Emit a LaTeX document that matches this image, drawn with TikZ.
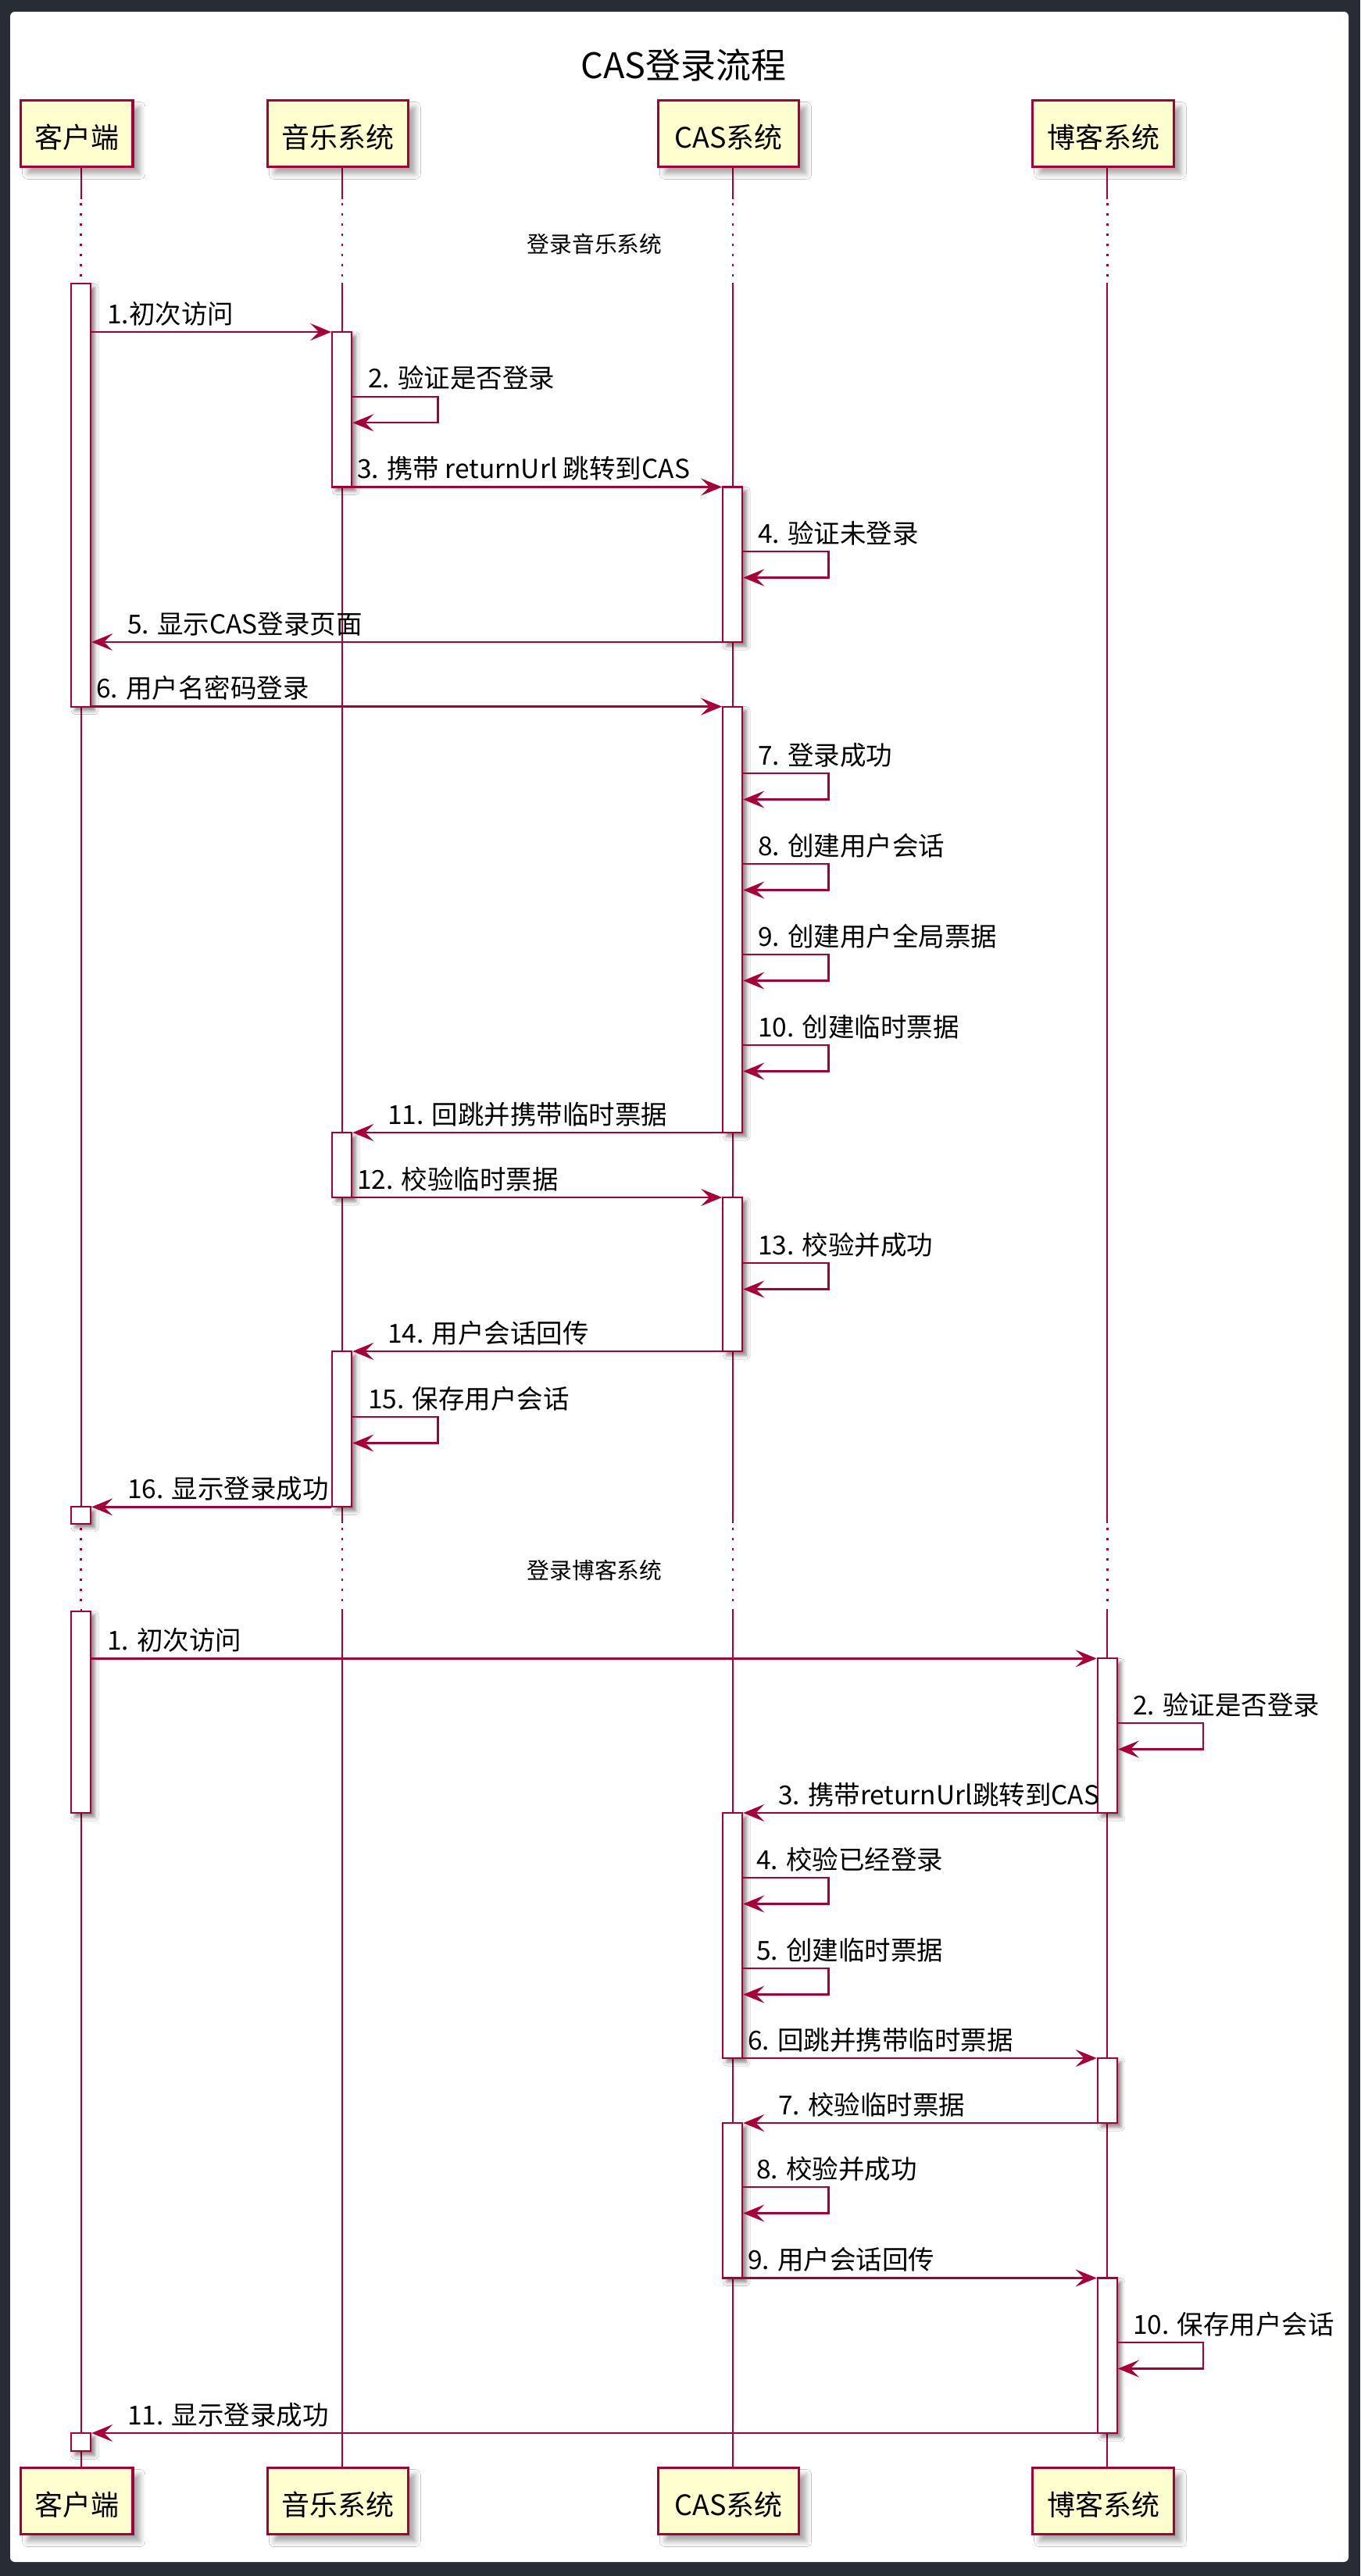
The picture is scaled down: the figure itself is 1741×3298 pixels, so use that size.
\documentclass[tikz,border=0pt]{standalone}
\usepackage{fontspec}
\setmainfont{Noto Sans CJK SC}
\usetikzlibrary{arrows.meta,shadows.blur}
\definecolor{pu}{HTML}{A80036}
\definecolor{pbg}{HTML}{FEFECE}
\definecolor{framebg}{HTML}{282C34}
\newcommand\pbox[5]{%
  \node[pbox, minimum width=#4, minimum height=85] (#1) at (#2,#3) {};
  \node[ptext] (#1t) at (#2,#3+5) {#5};}
\newcommand\abar[4]{%
  \pgfmathsetmacro\hh{#4-#3}%
  \node[actbar, minimum height=\hh pt] (#1) at (#2,{(#3+#4)/2}) {};}
\newcommand\mymsg[6]{%
  \coordinate (#1y) at (0,#4);
  \draw[msg] (#2 |- #1y) -- (#3 |- #1y);
  \node[lbl] (#1t) at (#5,#4-11) {#6};}
\newcommand\myself[5]{%
  \coordinate (#1y) at (0,#3);
  \draw[msg] (#2.east |- #1y) -- ++(109,0) -- ++(0,33.5) -- ++(-109,0);
  \node[lbl] (#1t) at (#4,#3-11) {#5};}
\begin{document}
\begin{tikzpicture}[x=1pt,y=-1pt,
  pbox/.style={draw=pu, line width=3.4pt, fill=pbg, inner sep=0pt,
    blur shadow={shadow xshift=9pt, shadow yshift=-9pt, shadow blur radius=7pt, shadow opacity=35}},
  ptext/.style={font=\fontsize{36}{40}\selectfont, inner sep=0pt},
  actbar/.style={draw=pu, line width=2.2pt, fill=white, minimum width=25pt, inner sep=0pt,
    blur shadow={shadow xshift=5pt, shadow yshift=-5pt, shadow blur radius=5pt, shadow opacity=50}},
  life/.style={draw=pu, line width=1.8pt},
  dly/.style={draw=pu, line width=2.4pt, dash pattern=on 2.5pt off 10.5pt},
  msg/.style={draw=pu, line width=2.4pt, -{Stealth[length=27pt,width=22pt,inset=11pt]}},
  lbl/.style={font=\fontsize{33.5}{38}\selectfont, anchor=base west, inner sep=0pt},
]
\useasboundingbox (0,0) rectangle (1741,3298);
\fill[framebg] (0,0) rectangle (1741,3298);
\fill[white, rounded corners=6pt] (13,15) rectangle (1726,3280);

% title
\node[font=\fontsize{45}{50}\selectfont, anchor=base, inner sep=0pt] (title) at (875,100) {CAS登录流程};

% lifelines
\foreach \x in {103.6,437.7,937.7,1417.3}{
  \draw[life] (\x,215) -- (\x,255) (\x,362) -- (\x,1950) (\x,2060) -- (\x,3158);
  \draw[dly] (\x,260) -- (\x,360) (\x,1956) -- (\x,2058);
}

% delay labels
\node[font=\fontsize{28.8}{32}\selectfont, inner sep=0pt] (d1) at (761,312) {登录音乐系统};
\node[font=\fontsize{28.8}{32}\selectfont, inner sep=0pt] (d2) at (761,2010) {登录博客系统};

% participants
\pbox{pc}{98.3}{170.9}{143.3}{客户端}
\pbox{pm}{432.3}{170.9}{180}{音乐系统}
\pbox{ps}{932.5}{170.9}{180.2}{CAS系统}
\pbox{pb}{1412}{170.9}{180.6}{博客系统}
\pbox{qc}{98.3}{3202}{143.3}{客户端}
\pbox{qm}{432.3}{3202}{180}{音乐系统}
\pbox{qs}{932.5}{3202}{180.2}{CAS系统}
\pbox{qb}{1412}{3202}{180.6}{博客系统}

% activation bars
\abar{cb1}{103.6}{363.3}{904.6}
\abar{cb2}{103.6}{1929.3}{1950.7}
\abar{cb3}{103.6}{2062.7}{2321}
\abar{cb4}{103.6}{3115}{3138.3}
\abar{mb1}{437.7}{425}{623.5}
\abar{mb2}{437.7}{1450}{1533}
\abar{mb3}{437.7}{1730}{1929.3}
\abar{sb1}{937.7}{623.5}{822}
\abar{sb2}{937.7}{904.6}{1450}
\abar{sb3}{937.7}{1533}{1730}
\abar{sb4}{937.7}{2321}{2635}
\abar{sb5}{937.7}{2718}{2916.5}
\abar{bb1}{1417.3}{2123.3}{2321}
\abar{bb2}{1417.3}{2635}{2718}
\abar{bb3}{1417.3}{2916.5}{3115}

% section 1
\mymsg{a1}{cb1.east}{mb1.west}{425}{137}{1.初次访问}
\myself{a2}{mb1}{507.7}{471}{2. 验证是否登录}
\mymsg{a3}{mb1.east}{sb1.west}{623.5}{457}{3. 携带 returnUrl 跳转到CAS}
\myself{a4}{sb1}{706}{970}{4. 验证未登录}
\mymsg{a5}{sb1.west}{cb1.east}{822}{163}{5. 显示CAS登录页面}
\mymsg{a6}{cb1.east}{sb2.west}{904.6}{123}{6. 用户名密码登录}
\myself{a7}{sb2}{990}{970}{7. 登录成功}
\myself{a8}{sb2}{1106}{970}{8. 创建用户会话}
\myself{a9}{sb2}{1222}{970}{9. 创建用户全局票据}
\myself{a10}{sb2}{1338}{970}{10. 创建临时票据}
\mymsg{a11}{sb2.west}{mb2.east}{1450}{496}{11. 回跳并携带临时票据}
\mymsg{a12}{mb2.east}{sb3.west}{1533}{457}{12. 校验临时票据}
\myself{a13}{sb3}{1617}{970}{13. 校验并成功}
\mymsg{a14}{sb3.west}{mb3.east}{1730}{496}{14. 用户会话回传}
\myself{a15}{mb3}{1814}{471}{15. 保存用户会话}
\mymsg{a16}{mb3.west}{cb2.east}{1929.3}{163}{16. 显示登录成功}

% section 2
\mymsg{b1}{cb3.east}{bb1.west}{2123.3}{137}{1. 初次访问}
\myself{b2}{bb1}{2206}{1450}{2. 验证是否登录}
\mymsg{b3}{bb1.west}{sb4.east}{2321}{996}{3. 携带returnUrl跳转到CAS}
\myself{b4}{sb4}{2404}{968}{4. 校验已经登录}
\myself{b5}{sb4}{2520}{968}{5. 创建临时票据}
\mymsg{b6}{sb4.east}{bb2.west}{2635}{957}{6. 回跳并携带临时票据}
\mymsg{b7}{bb2.west}{sb5.east}{2718}{996}{7. 校验临时票据}
\myself{b8}{sb5}{2800}{968}{8. 校验并成功}
\mymsg{b9}{sb5.east}{bb3.west}{2916.5}{957}{9. 用户会话回传}
\myself{b10}{bb3}{2999}{1450}{10. 保存用户会话}
\mymsg{b11}{bb3.west}{cb4.east}{3115}{163}{11. 显示登录成功}
\end{tikzpicture}
\end{document}
